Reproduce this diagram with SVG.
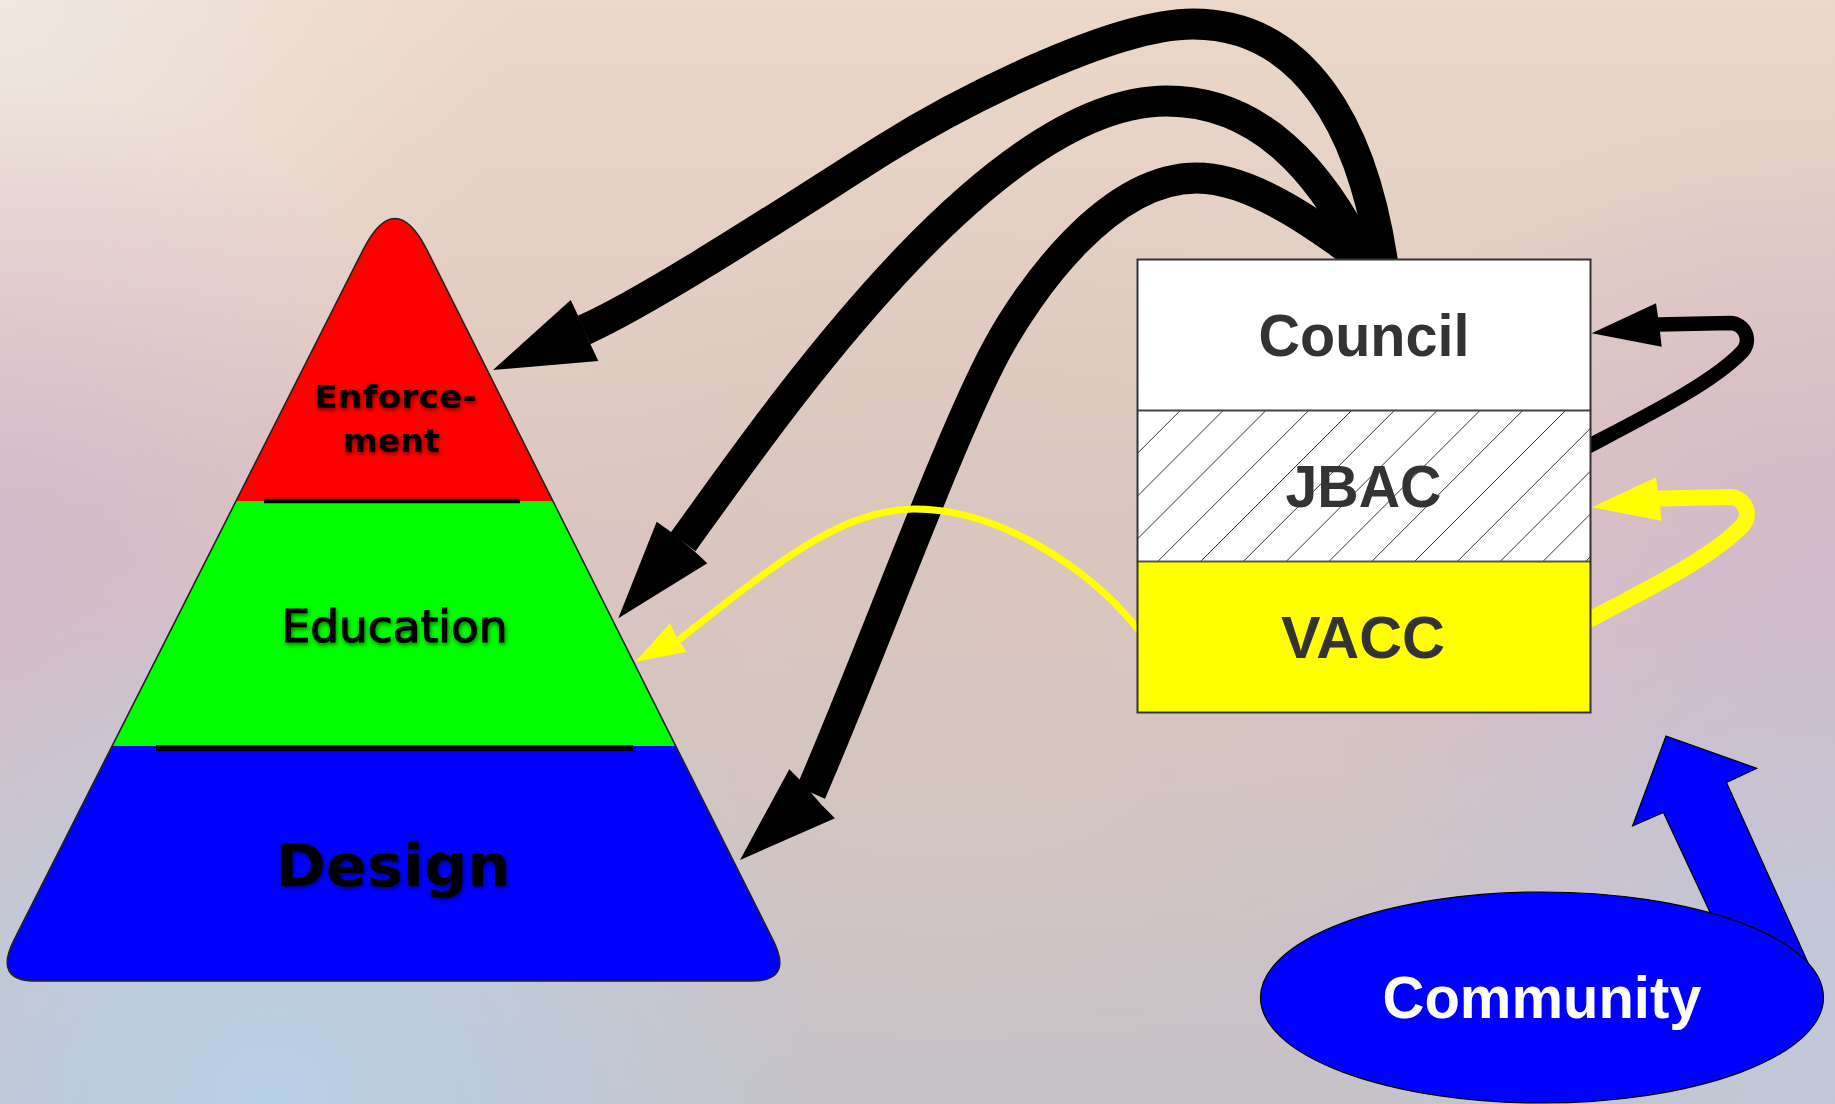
<svg xmlns="http://www.w3.org/2000/svg" width="1835" height="1104" viewBox="0 0 1835 1104">
<defs>
<style>
.arc{fill:none;stroke:#000;stroke-width:31;stroke-linecap:butt;stroke-linejoin:round}
.head{fill:#000;stroke:none}
.ptxt{font-family:"DejaVu Sans","Liberation Sans",sans-serif;fill:#000;text-anchor:middle}
.btxt{font-family:"Liberation Sans",Arial,sans-serif;font-weight:bold;font-size:59px;fill:#333;text-anchor:middle}
.hatch{fill:none;stroke:#333;stroke-width:1}
.sep{stroke:#000;stroke-linecap:butt}
</style>
<linearGradient id="bgLin" x1="0" y1="0" x2="0" y2="1">
<stop offset="0" stop-color="#ecd8c8"/>
<stop offset="0.5" stop-color="#dcc4c0"/>
<stop offset="1" stop-color="#c6c2c8"/>
</linearGradient>
<radialGradient id="rTL" cx="0" cy="0" r="520" gradientUnits="userSpaceOnUse">
<stop offset="0" stop-color="#f0e8e2" stop-opacity="0.95"/>
<stop offset="1" stop-color="#f0e8e2" stop-opacity="0"/>
</radialGradient>
<radialGradient id="rLM" cx="0" cy="540" r="460" gradientUnits="userSpaceOnUse">
<stop offset="0" stop-color="#d2b6cc" stop-opacity="0.8"/>
<stop offset="1" stop-color="#d2b6cc" stop-opacity="0"/>
</radialGradient>
<radialGradient id="rBL" cx="270" cy="1104" r="560" gradientUnits="userSpaceOnUse">
<stop offset="0" stop-color="#b6d0e8" stop-opacity="0.95"/>
<stop offset="1" stop-color="#b6d0e8" stop-opacity="0"/>
</radialGradient>
<radialGradient id="rRM" cx="1835" cy="600" r="520" gradientUnits="userSpaceOnUse">
<stop offset="0" stop-color="#d0b2cc" stop-opacity="0.75"/>
<stop offset="1" stop-color="#d0b2cc" stop-opacity="0"/>
</radialGradient>
<radialGradient id="rBR" cx="1835" cy="1000" r="520" gradientUnits="userSpaceOnUse">
<stop offset="0" stop-color="#bfcadd" stop-opacity="0.8"/>
<stop offset="1" stop-color="#bfcadd" stop-opacity="0"/>
</radialGradient>
<radialGradient id="rC" cx="950" cy="620" r="460" gradientUnits="userSpaceOnUse">
<stop offset="0" stop-color="#d6c8bc" stop-opacity="0.6"/>
<stop offset="1" stop-color="#d6c8bc" stop-opacity="0"/>
</radialGradient>
<clipPath id="pyrClip">
<path d="M363,250 Q395,187 427,250 L773,940 Q793.6,981 752,981 L36,981 Q-6.8,981 14,940 Z"/>
</clipPath>
<clipPath id="jbacClip">
<rect x="1137.5" y="410.5" width="453" height="151"/>
</clipPath>
<filter id="soft" x="-10%" y="-30%" width="120%" height="160%">
<feGaussianBlur in="SourceAlpha" stdDeviation="2"/>
<feOffset dx="1" dy="2"/>
<feComponentTransfer><feFuncA type="linear" slope="0.55"/></feComponentTransfer>
<feMerge><feMergeNode/><feMergeNode in="SourceGraphic"/></feMerge>
</filter>
</defs>

<g id="background">
<rect x="0" y="0" width="1835" height="1104" fill="url(#bgLin)"/>
<rect x="0" y="0" width="1835" height="1104" fill="url(#rC)"/>
<rect x="0" y="0" width="1835" height="1104" fill="url(#rTL)"/>
<rect x="0" y="0" width="1835" height="1104" fill="url(#rLM)"/>
<rect x="0" y="0" width="1835" height="1104" fill="url(#rRM)"/>
<rect x="0" y="0" width="1835" height="1104" fill="url(#rBR)"/>
<rect x="0" y="0" width="1835" height="1104" fill="url(#rBL)"/>
</g>

<g id="pyramid">
<g clip-path="url(#pyrClip)">
<rect x="-20" y="180" width="840" height="321" fill="#ff0000"/>
<rect x="-20" y="501" width="840" height="245" fill="#00ff00"/>
<rect x="-20" y="746" width="840" height="240" fill="#0000ff"/>
</g>
<path d="M363,250 Q395,187 427,250 L773,940 Q793.6,981 752,981 L36,981 Q-6.8,981 14,940 Z" fill="none" stroke="#222" stroke-width="1.6"/>
<line class="sep" x1="264" y1="501" x2="520" y2="501" stroke-width="4.5"/>
<line class="sep" x1="156" y1="748" x2="633" y2="748" stroke-width="6"/>
<g filter="url(#soft)">
<text class="ptxt" x="395.5" y="408" font-size="32" font-weight="bold" textLength="163" lengthAdjust="spacingAndGlyphs">Enforce-</text>
<text class="ptxt" x="391.5" y="451.5" font-size="32" font-weight="bold" textLength="97" lengthAdjust="spacingAndGlyphs">ment</text>
<text class="ptxt" x="394.5" y="641.5" font-size="45" stroke="#000" stroke-width="1.2" textLength="226" lengthAdjust="spacingAndGlyphs">Education</text>
<text class="ptxt" x="393" y="886" font-size="58" font-weight="bold" textLength="235" lengthAdjust="spacingAndGlyphs">Design</text>
</g>
</g>

<g id="connectors">
<path class="arc" d="M1385,280 C1365,120 1300,24 1193,24 C1110,24 953,106 883,150 C813,194 654,299 584,330"/>
<polygon class="head" points="493,370 570.7,300 578.3,316 590,343.3 598.3,361"/>
<path class="arc" d="M1372,275 C1321.6,165.8 1256.7,101 1166.7,101 C986.7,101 765.6,428.6 683,542"/>
<polygon class="head" points="618.3,618.3 656.7,521.7 670.7,531.7 695,551.7 707.3,563.3"/>
<path class="arc" d="M1390,280 C1326,232 1256.7,178 1196.7,178 C1106.7,178 1027.4,292.8 996.5,350 C949,438 870.8,654.5 810.8,792.5"/>
<polygon class="head" points="740,860 789.3,769.3 800,780 821.7,805 835,818.3"/>
<path d="M1150,644 L1137,628 C1090,570 1000,508 913,509 C840,511 780,560 676,642" fill="none" stroke="#ffff00" stroke-width="7"/>
<polygon points="635,662 670,623.3 677,638 686.7,651.7" fill="#ffff00"/>
<path d="M1585,448 C1650,414 1712,383 1741.7,352.2 A17,17 0 0 0 1730,323 L1658,324.5" fill="none" stroke="#000" stroke-width="14.5"/>
<polygon class="head" points="1591.7,333.3 1656,303.3 1658,317 1660,331.7 1661.7,346.7"/>
<g transform="translate(0,174)">
<path d="M1585,448 C1650,414 1712,383 1741.7,352.2 A17,17 0 0 0 1730,323 L1658,324.5" fill="none" stroke="#ffff00" stroke-width="16"/>
<polygon points="1591.7,333.3 1656,303.3 1658,317 1660,331.7 1661.7,346.7" fill="#ffff00"/>
</g>
<polygon points="1666,736 1756.7,768.3 1726.5,782.5 1818,985 1744,985 1663.4,812.5 1632.6,826" fill="#0000ff" stroke="#000" stroke-width="1.2" stroke-linejoin="miter"/>
</g>

<g id="council-box">
<rect x="1137.5" y="259.5" width="453" height="151" fill="#fff"/>
<rect x="1137.5" y="410.5" width="453" height="151" fill="#fff"/>
<rect x="1137.5" y="561.5" width="453" height="151" fill="#ffff00"/>
<path class="hatch" clip-path="url(#jbacClip)" d="M986,562 L1138,410 M1028.8,562 L1180.8,410 M1071.6,562 L1223.6,410 M1114.4,562 L1266.4,410 M1157.2,562 L1309.2,410 M1200,562 L1352,410 M1242.8,562 L1394.8,410 M1285.6,562 L1437.6,410 M1328.4,562 L1480.4,410 M1371.2,562 L1523.2,410 M1414,562 L1566,410 M1456.8,562 L1608.8,410 M1499.6,562 L1651.6,410 M1542.4,562 L1694.4,410 M1585.2,562 L1737.2,410"/>
<line x1="1137.5" y1="410.5" x2="1590.5" y2="410.5" stroke="#444" stroke-width="1.8"/>
<line x1="1137.5" y1="561.5" x2="1590.5" y2="561.5" stroke="#555" stroke-width="1.8"/>
<rect x="1137.5" y="259.5" width="453" height="453" fill="none" stroke="#333" stroke-width="2"/>
<text class="btxt" x="1364" y="356" textLength="211" lengthAdjust="spacingAndGlyphs">Council</text>
<text class="btxt" x="1363.5" y="506.5" textLength="156" lengthAdjust="spacingAndGlyphs">JBAC</text>
<text class="btxt" x="1363" y="657.5" textLength="164" lengthAdjust="spacingAndGlyphs">VACC</text>
</g>

<g id="community">
<ellipse cx="1542" cy="997.5" rx="281.5" ry="105.5" fill="#0000ff" stroke="#000" stroke-width="1.2"/>
<text x="1542" y="1017.5" font-family="Liberation Sans, Arial, sans-serif" font-weight="bold" font-size="59" fill="#fff" text-anchor="middle" textLength="319" lengthAdjust="spacingAndGlyphs">Community</text>
</g>
</svg>
